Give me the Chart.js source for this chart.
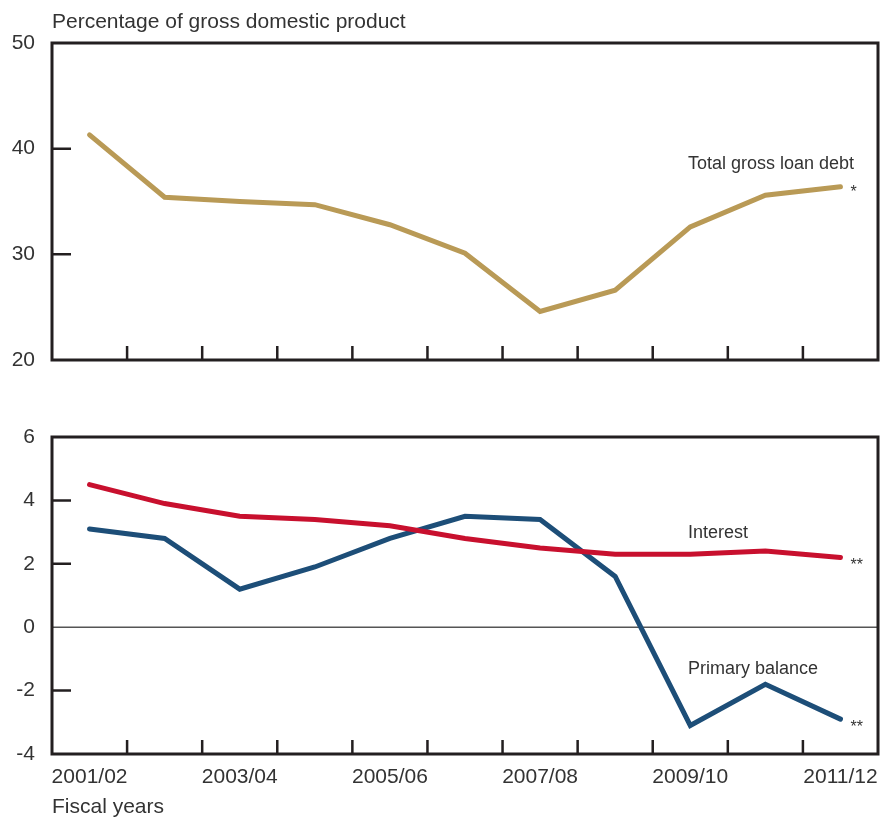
<!DOCTYPE html>
<html>
<head>
<meta charset="utf-8">
<script src="https://cdn.jsdelivr.net/npm/chart.js@4/dist/chart.umd.min.js"></script>
<style>
  body { margin: 0; background: #fff; }
  #wrap { position: relative; width: 880px; height: 818px; }
  canvas { position: absolute; left: 0; }
  .txt { position: absolute; font-family: "Liberation Sans", Arial, sans-serif; font-size: 21px; line-height: 24px; color: #333; white-space: nowrap; }
</style>
</head>
<body>
<div id="wrap">
  <canvas id="debtChart" width="880" height="400" style="top:0"></canvas>
  <canvas id="balanceChart" width="880" height="418" style="top:400px"></canvas>
  <div class="txt" style="left:52px; top:9px">Percentage of gross domestic product</div>
  <div class="txt" style="left:52px; top:794px">Fiscal years</div>
</div>

<script>
// data
const years = ['2001/02', '2002/03', '2003/04', '2004/05', '2005/06', '2006/07',
               '2007/08', '2008/09', '2009/10', '2010/11', '2011/12'];
const grossDebt = [41.3, 35.4, 35.0, 34.7, 32.8, 30.1, 24.6, 26.6, 32.6, 35.6, 36.4];
const interest = [4.5, 3.9, 3.5, 3.4, 3.2, 2.8, 2.5, 2.3, 2.3, 2.4, 2.2];
const primaryBalance = [3.1, 2.8, 1.2, 1.9, 2.8, 3.5, 3.4, 1.6, -3.1, -1.8, -2.9];
const debtTicks = [20, 30, 40, 50];
const balanceTicks = [-4, -2, 0, 2, 4, 6];

const FONT = '"Liberation Sans", Arial, sans-serif';
const INK = '#333';
const FRAME = '#231f20';

// frame, inward tick marks, zero line
function framePlugin(tickVals, zeroLine) {
  return {
    id: 'frame',
    beforeDatasetsDraw(chart) {
      if (!zeroLine) return;
      const { ctx, chartArea: a, scales: { y } } = chart;
      const py = y.getPixelForValue(0);
      ctx.save();
      ctx.strokeStyle = '#555';
      ctx.lineWidth = 1.5;
      ctx.beginPath();
      ctx.moveTo(a.left, py);
      ctx.lineTo(a.right, py);
      ctx.stroke();
      ctx.restore();
    },
    afterDatasetsDraw(chart) {
      const { ctx, chartArea: a, scales: { x, y } } = chart;
      ctx.save();
      ctx.strokeStyle = FRAME;
      ctx.lineWidth = 3;
      ctx.strokeRect(a.left, a.top, a.width, a.height);
      ctx.lineWidth = 2.5;
      ctx.beginPath();
      tickVals.forEach(v => {
        if (v === y.min || v === y.max || (zeroLine && v === 0)) return;
        const py = y.getPixelForValue(v);
        ctx.moveTo(a.left, py);
        ctx.lineTo(a.left + 19, py);
      });
      for (let i = 0; i < years.length - 1; i++) {
        const px = x.getPixelForValue(i + 0.5);
        ctx.moveTo(px, a.bottom);
        ctx.lineTo(px, a.bottom - 14);
      }
      ctx.stroke();
      ctx.restore();
    }
  };
}

// series names and end markers
function notesPlugin(notes, marks, markDrop) {
  return {
    id: 'notes',
    afterDatasetsDraw(chart) {
      const { ctx, scales: { x, y } } = chart;
      ctx.save();
      ctx.fillStyle = INK;
      ctx.textBaseline = 'middle';
      ctx.textAlign = 'left';
      ctx.font = '18px ' + FONT;
      notes.forEach(n => {
        ctx.fillText(n.text, x.getPixelForValue(n.at), y.getPixelForValue(n.value));
      });
      ctx.textBaseline = 'alphabetic';
      ctx.font = '16px ' + FONT;
      chart.data.datasets.forEach((ds, k) => {
        const last = ds.data.length - 1;
        const px = x.getPixelForValue(last);
        const py = y.getPixelForValue(ds.data[last]);
        ctx.fillText(marks[k], px + 10, py + markDrop);
      });
      ctx.restore();
    }
  };
}

function lineSet(label, data, color) {
  return {
    label: label,
    data: data,
    borderColor: color,
    borderWidth: 5,
    borderCapStyle: 'round',
    pointRadius: 0,
    tension: 0,
    fill: false
  };
}

function makeOptions(ticks, showX, xHeight, padTop) {
  return {
    responsive: false,
    animation: false,
    layout: { padding: { top: padTop, right: 2, left: 0, bottom: 0 } },
    plugins: { legend: { display: false }, tooltip: { enabled: false } },
    scales: {
      x: {
        type: 'category',
        offset: true,
        grid: { display: false, drawTicks: false, offset: true },
        border: { display: false },
        ticks: {
          display: showX,
          autoSkip: false,
          maxRotation: 0,
          padding: 11,
          color: INK,
          font: { family: FONT, size: 21 },
          callback: (v, i) => (i % 2 === 0 ? years[i] : '')
        },
        afterFit: s => {
          s.height = xHeight;
          s.paddingLeft = 0;
          s.paddingRight = 0;
        }
      },
      y: {
        min: ticks[0],
        max: ticks[ticks.length - 1],
        grid: { display: false, drawTicks: false },
        border: { display: false },
        ticks: {
          stepSize: ticks[1] - ticks[0],
          padding: 17,
          color: INK,
          font: { family: FONT, size: 21 }
        },
        afterFit: s => { s.width = 52; }
      }
    }
  };
}

new Chart(document.getElementById('debtChart'), {
  type: 'line',
  data: {
    labels: years,
    datasets: [lineSet('Total gross loan debt', grossDebt, '#b99a56')]
  },
  options: makeOptions(debtTicks, false, 40, 43),
  plugins: [
    framePlugin(debtTicks, false),
    notesPlugin([{ text: 'Total gross loan debt', at: 7.97, value: 38.5 }], ['*'], 10)
  ]
});

new Chart(document.getElementById('balanceChart'), {
  type: 'line',
  data: {
    labels: years,
    datasets: [
      lineSet('Interest', interest, '#c8102e'),
      lineSet('Primary balance', primaryBalance, '#1d4e78')
    ]
  },
  options: makeOptions(balanceTicks, true, 64, 37),
  plugins: [
    framePlugin(balanceTicks, true),
    notesPlugin([
      { text: 'Interest', at: 7.97, value: 2.97 },
      { text: 'Primary balance', at: 7.97, value: -1.32 }
    ], ['**', '**'], 13)
  ]
});
</script>
</body>
</html>
